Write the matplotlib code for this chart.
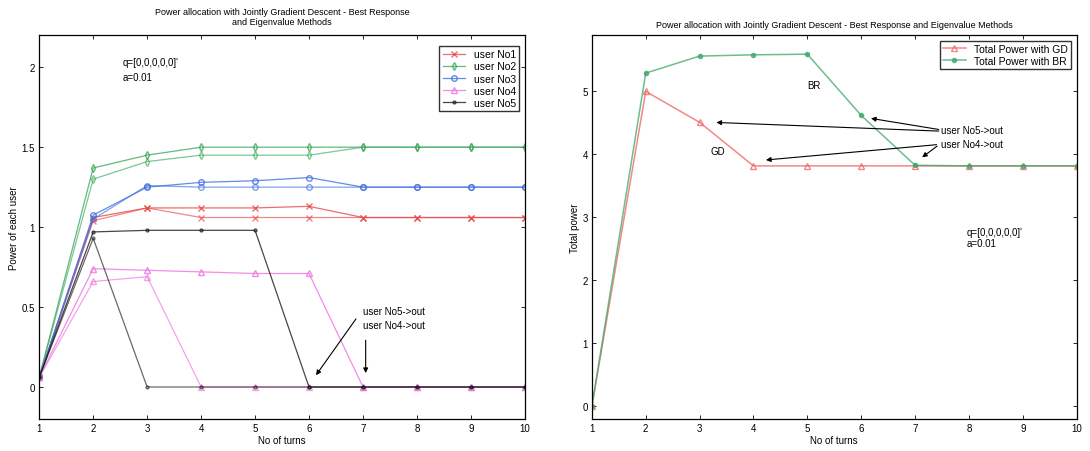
import matplotlib.pyplot as plt
import numpy as np

turns = [1, 2, 3, 4, 5, 6, 7, 8, 9, 10]

# left plot: two runs per user (GD and BR)
u1_gd = [0.06, 1.06, 1.12, 1.12, 1.12, 1.13, 1.06, 1.06, 1.06, 1.06]
u1_br = [0.06, 1.04, 1.12, 1.06, 1.06, 1.06, 1.06, 1.06, 1.06, 1.06]
u2_gd = [0.06, 1.37, 1.45, 1.50, 1.50, 1.50, 1.50, 1.50, 1.50, 1.50]
u2_br = [0.06, 1.30, 1.41, 1.45, 1.45, 1.45, 1.50, 1.50, 1.50, 1.50]
u3_gd = [0.06, 1.075, 1.25, 1.28, 1.29, 1.31, 1.25, 1.25, 1.25, 1.25]
u3_br = [0.06, 1.05, 1.26, 1.25, 1.25, 1.25, 1.25, 1.25, 1.25, 1.25]
u4_gd = [0.06, 0.74, 0.73, 0.72, 0.71, 0.71, 0.0, 0.0, 0.0, 0.0]
u4_br = [0.06, 0.66, 0.69, 0.0, 0.0, 0.0, 0.0, 0.0, 0.0, 0.0]
u5_gd = [0.06, 0.97, 0.98, 0.98, 0.98, 0.0, 0.0, 0.0, 0.0, 0.0]
u5_br = [0.06, 0.93, 0.0, 0.0, 0.0, 0.0, 0.0, 0.0, 0.0, 0.0]

# right plot: total power
total_gd = [0.0, 4.99, 4.50, 3.81, 3.81, 3.81, 3.81, 3.81, 3.81, 3.81]
total_br = [0.0, 5.28, 5.55, 5.57, 5.58, 4.61, 3.82, 3.81, 3.81, 3.81]

plt.rcParams['font.family'] = ['Liberation Sans', 'DejaVu Sans']
plt.rcParams['font.size'] = 7

fig = plt.figure(figsize=(10.9, 4.52), dpi=100)
ax1 = fig.add_axes([0.036, 0.0708, 0.4455, 0.849])
ax2 = fig.add_axes([0.543, 0.0708, 0.4448, 0.849])

users = [
    ('user No1', '#e84848', 'x', u1_gd, u1_br),
    ('user No2', '#3aa85a', 'd', u2_gd, u2_br),
    ('user No3', '#3e6ee0', 'o', u3_gd, u3_br),
    ('user No4', '#f070e0', '^', u4_gd, u4_br),
    ('user No5', '#1a1a1a', '.', u5_gd, u5_br),
]
for name, col, mk, gd, br in users:
    ax1.plot(turns, gd, color=col, marker=mk, ms=4, lw=0.9, mfc='none',
             alpha=0.8, label=name)
    ax1.plot(turns, br, color=col, marker=mk, ms=4, lw=0.9, mfc='none',
             alpha=0.65)

ax1.set_xlim(1, 10)
ax1.set_ylim(-0.2, 2.2)
ax1.set_xticks(turns)
ax1.set_yticks([0, 0.5, 1, 1.5, 2])
ax1.set_yticklabels(['0', '0.5', '1', '1.5', '2'])
ax1.set_xlabel('No of turns', labelpad=1)
ax1.set_ylabel('Power of each user', labelpad=2)
ax1.set_title('Power allocation with Jointly Gradient Descent - Best Response\nand Eigenvalue Methods',
              fontsize=6.5, pad=8)
ax1.legend(loc='upper right', fontsize=7.5, fancybox=False, edgecolor='black',
           handlelength=2.2, borderpad=0.3, labelspacing=0.2,
           bbox_to_anchor=(0.999, 0.985))
ax1.text(2.54, 2.03, "q=[0,0,0,0,0]'", va='center', fontsize=7)
ax1.text(2.54, 1.94, 'a=0.01', va='center', fontsize=7)
ax1.text(7.0, 0.475, 'user No5->out', va='center', fontsize=7)
ax1.text(7.0, 0.39, 'user No4->out', va='center', fontsize=7)
ax1.annotate('', xy=(6.1, 0.06), xytext=(6.9, 0.44),
             arrowprops=dict(arrowstyle='-|>', color='black', lw=0.8, mutation_scale=7))
ax1.annotate('', xy=(7.05, 0.07), xytext=(7.05, 0.31),
             arrowprops=dict(arrowstyle='-|>', color='black', lw=0.8, mutation_scale=7))

ax2.plot(turns, total_gd, color='#f06060', marker='^', ms=5, lw=1.1,
         mfc='none', alpha=0.75, label='Total Power with GD')
ax2.plot(turns, total_br, color='#3aa86a', marker='.', ms=6, lw=1.1,
         alpha=0.75, label='Total Power with BR')
ax2.set_xlim(1, 10)
ax2.set_ylim(-0.2, 5.88)
ax2.set_xticks(turns)
ax2.set_yticks([0, 1, 2, 3, 4, 5])
ax2.set_xlabel('No of turns', labelpad=1)
ax2.set_ylabel('Total power', labelpad=2)
ax2.set_title('Power allocation with Jointly Gradient Descent - Best Response and Eigenvalue Methods',
              fontsize=6.5, pad=6)
ax2.legend(loc='upper right', fontsize=7.5, fancybox=False, edgecolor='black',
           handlelength=2.2, borderpad=0.3, labelspacing=0.2,
           bbox_to_anchor=(0.999, 0.999))
ax2.text(5.0, 5.09, 'BR', va='center', fontsize=7)
ax2.text(3.2, 4.04, 'GD', va='center', fontsize=7)
ax2.text(7.49, 4.38, 'user No5->out', va='center', fontsize=7)
ax2.text(7.49, 4.15, 'user No4->out', va='center', fontsize=7)
ax2.annotate('', xy=(6.13, 4.57), xytext=(7.49, 4.38),
             arrowprops=dict(arrowstyle='-|>', color='black', lw=0.8, mutation_scale=7))
ax2.annotate('', xy=(3.26, 4.5), xytext=(7.49, 4.36),
             arrowprops=dict(arrowstyle='-|>', color='black', lw=0.8, mutation_scale=7))
ax2.annotate('', xy=(4.18, 3.9), xytext=(7.45, 4.15),
             arrowprops=dict(arrowstyle='-|>', color='black', lw=0.8, mutation_scale=7))
ax2.annotate('', xy=(7.09, 3.92), xytext=(7.45, 4.15),
             arrowprops=dict(arrowstyle='-|>', color='black', lw=0.8, mutation_scale=7))
ax2.text(7.95, 2.77, "q=[0,0,0,0,0]'", va='center', fontsize=7)
ax2.text(7.95, 2.59, 'a=0.01', va='center', fontsize=7)

for ax in (ax1, ax2):
    ax.tick_params(direction='in', top=True, right=True, length=3, width=0.6,
                   labelsize=7, pad=3)
    for s in ax.spines.values():
        s.set_linewidth(0.9)

fig.savefig('out.png', dpi=100)
